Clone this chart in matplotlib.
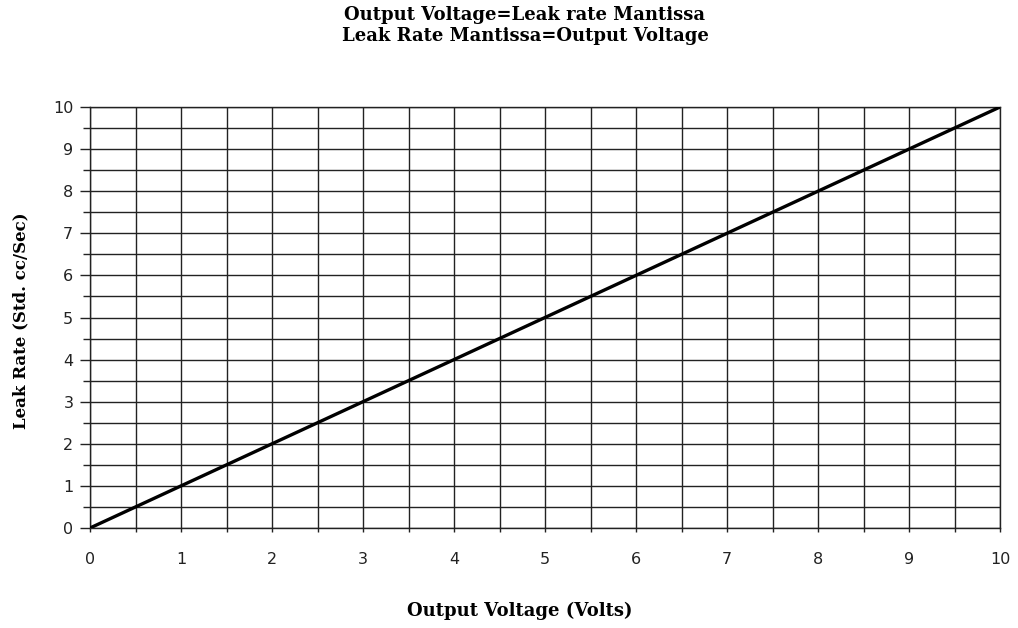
import numpy as np
import matplotlib
matplotlib.use("Agg")
import matplotlib.pyplot as plt
from matplotlib.ticker import MultipleLocator

# data
output_voltage = [0, 1, 2, 3, 4, 5, 6, 7, 8, 9, 10]
leak_rate = [0, 1, 2, 3, 4, 5, 6, 7, 8, 9, 10]

title_lines = ["Output Voltage=Leak rate Mantissa", "Leak Rate Mantissa=Output Voltage"]

fig = plt.figure(figsize=(10.18, 6.28), dpi=100)
ax = fig.add_axes([90 / 1018, 100 / 628, 910 / 1018, 421 / 628])

ax.plot(output_voltage, leak_rate, color="black", linewidth=2.4, zorder=3)

ax.set_xlim(0, 10)
ax.set_ylim(0, 10)
ax.xaxis.set_major_locator(MultipleLocator(1))
ax.xaxis.set_minor_locator(MultipleLocator(0.5))
ax.yaxis.set_major_locator(MultipleLocator(1))
ax.yaxis.set_minor_locator(MultipleLocator(0.5))
ax.grid(which="both", color="#222222", linewidth=1.0)
ax.set_axisbelow(True)
for s in ax.spines.values():
    s.set_color("#222222")
    s.set_linewidth(1.0)

ax.tick_params(axis="x", which="both", direction="out", length=3, width=1.0,
               color="#222222", pad=14, labelsize=11.5)
ax.tick_params(axis="y", which="major", direction="out", length=7, width=1.0,
               color="#222222", pad=5, labelsize=11.5)
ax.tick_params(axis="y", which="minor", direction="out", length=5, width=1.0,
               color="#222222")
for lab in ax.get_xticklabels() + ax.get_yticklabels():
    lab.set_fontfamily("DejaVu Sans")
    lab.set_color("#222222")

serif = {"family": "DejaVu Serif", "weight": "bold", "size": 13}
fig.text(525 / 1018, 1 - 15 / 628, title_lines[0], ha="center", va="center", fontdict=serif)
fig.text(525 / 1018, 1 - 36 / 628, title_lines[1], ha="center", va="center", fontdict=serif)
fig.text(520 / 1018, 1 - 611 / 628, "Output Voltage (Volts)", ha="center", va="center", fontdict=serif)
fig.text(21 / 1018, 1 - 321 / 628, "Leak Rate (Std. cc/Sec)", ha="center", va="center",
         rotation=90, fontdict=dict(serif, size=12))

fig.savefig("out.png", dpi=100)
